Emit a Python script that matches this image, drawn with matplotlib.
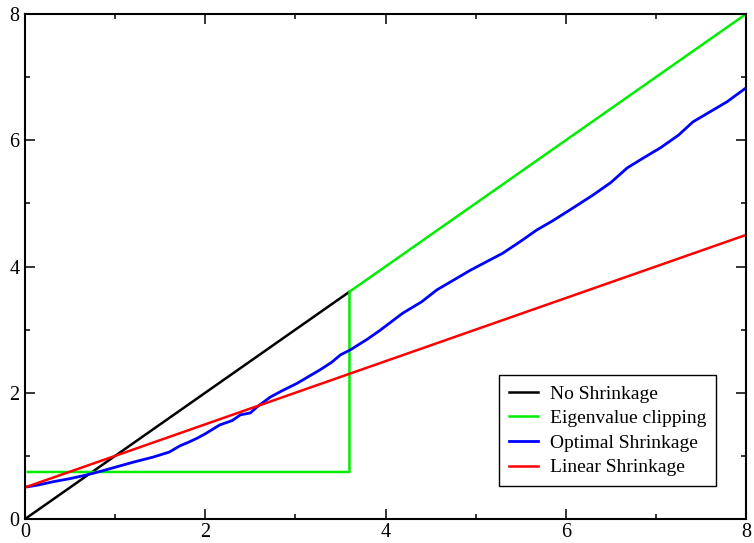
import numpy as np
import matplotlib.pyplot as plt
from matplotlib.ticker import MultipleLocator

plt.rcParams['font.family'] = ['Liberation Serif', 'DejaVu Serif']

# no shrinkage: identity up to the clipping edge
x_none = [0.0, 3.6]
y_none = [0.0, 3.6]

# eigenvalue clipping
x_clip = [0.03, 3.6, 3.6, 8.0]
y_clip = [0.745, 0.745, 3.6, 8.0]

# optimal shrinkage
x_opt = [0.03, 0.15, 0.31, 0.5, 0.69, 0.85, 1.05, 1.2, 1.42, 1.6, 1.72, 1.82, 1.91, 2.0,
         2.16, 2.3, 2.39, 2.5, 2.57, 2.72, 2.85, 3.02, 3.15, 3.27, 3.4, 3.5, 3.61, 3.8, 3.94,
         4.19, 4.4, 4.57, 4.75, 4.94, 5.1, 5.3, 5.5, 5.68, 5.85, 6.05, 6.3, 6.5, 6.68, 6.85,
         7.05, 7.25, 7.41, 7.6, 7.79, 8.0]
y_opt = [0.51, 0.54, 0.59, 0.64, 0.70, 0.76, 0.84, 0.9, 0.98, 1.06, 1.16, 1.22, 1.28, 1.35,
         1.49, 1.56, 1.65, 1.68, 1.77, 1.93, 2.03, 2.15, 2.26, 2.36, 2.48, 2.6, 2.68, 2.85, 2.99,
         3.26, 3.44, 3.63, 3.78, 3.94, 4.06, 4.21, 4.4, 4.58, 4.72, 4.9, 5.13, 5.33, 5.56, 5.71,
         5.88, 6.08, 6.29, 6.45, 6.61, 6.83]

# linear shrinkage
x_lin = [0.0, 8.0]
y_lin = [0.5, 4.5]

fig = plt.figure(figsize=(7.54, 5.43), dpi=100)
ax = fig.add_axes([0.0332, 0.0442, 0.9562, 0.93])

ax.plot(x_none, y_none, color='black', lw=1.8, label='No Shrinkage')
ax.plot(x_clip, y_clip, color='#00ee00', lw=1.8, label='Eigenvalue clipping')
ax.plot(x_opt, y_opt, color='#0000ff', lw=2.0, label='Optimal Shrinkage')
ax.plot(x_lin, y_lin, color='#ff0000', lw=1.8, label='Linear Shrinkage')

ax.set_xlim(0, 8)
ax.set_ylim(0, 8)
ax.xaxis.set_major_locator(MultipleLocator(2))
ax.xaxis.set_minor_locator(MultipleLocator(1))
ax.yaxis.set_major_locator(MultipleLocator(2))
ax.yaxis.set_minor_locator(MultipleLocator(1))
ax.tick_params(which='both', direction='in', top=True, right=True, labelsize=14.5)
ax.tick_params(axis='x', pad=3)
ax.tick_params(axis='y', pad=4)
ax.tick_params(which='major', length=7.5, width=1.1)
ax.tick_params(which='minor', length=3.8, width=1.1)
for s in ax.spines.values():
    s.set_linewidth(1.5)

leg = ax.legend(loc='lower right', bbox_to_anchor=(0.958, 0.065), borderaxespad=0,
                fontsize=14, fancybox=False, framealpha=1, edgecolor='black',
                handlelength=1.5, handletextpad=0.6, labelspacing=0.36, borderpad=0.5)
leg.get_frame().set_linewidth(1.0)

fig.savefig('out.png', dpi=100)
